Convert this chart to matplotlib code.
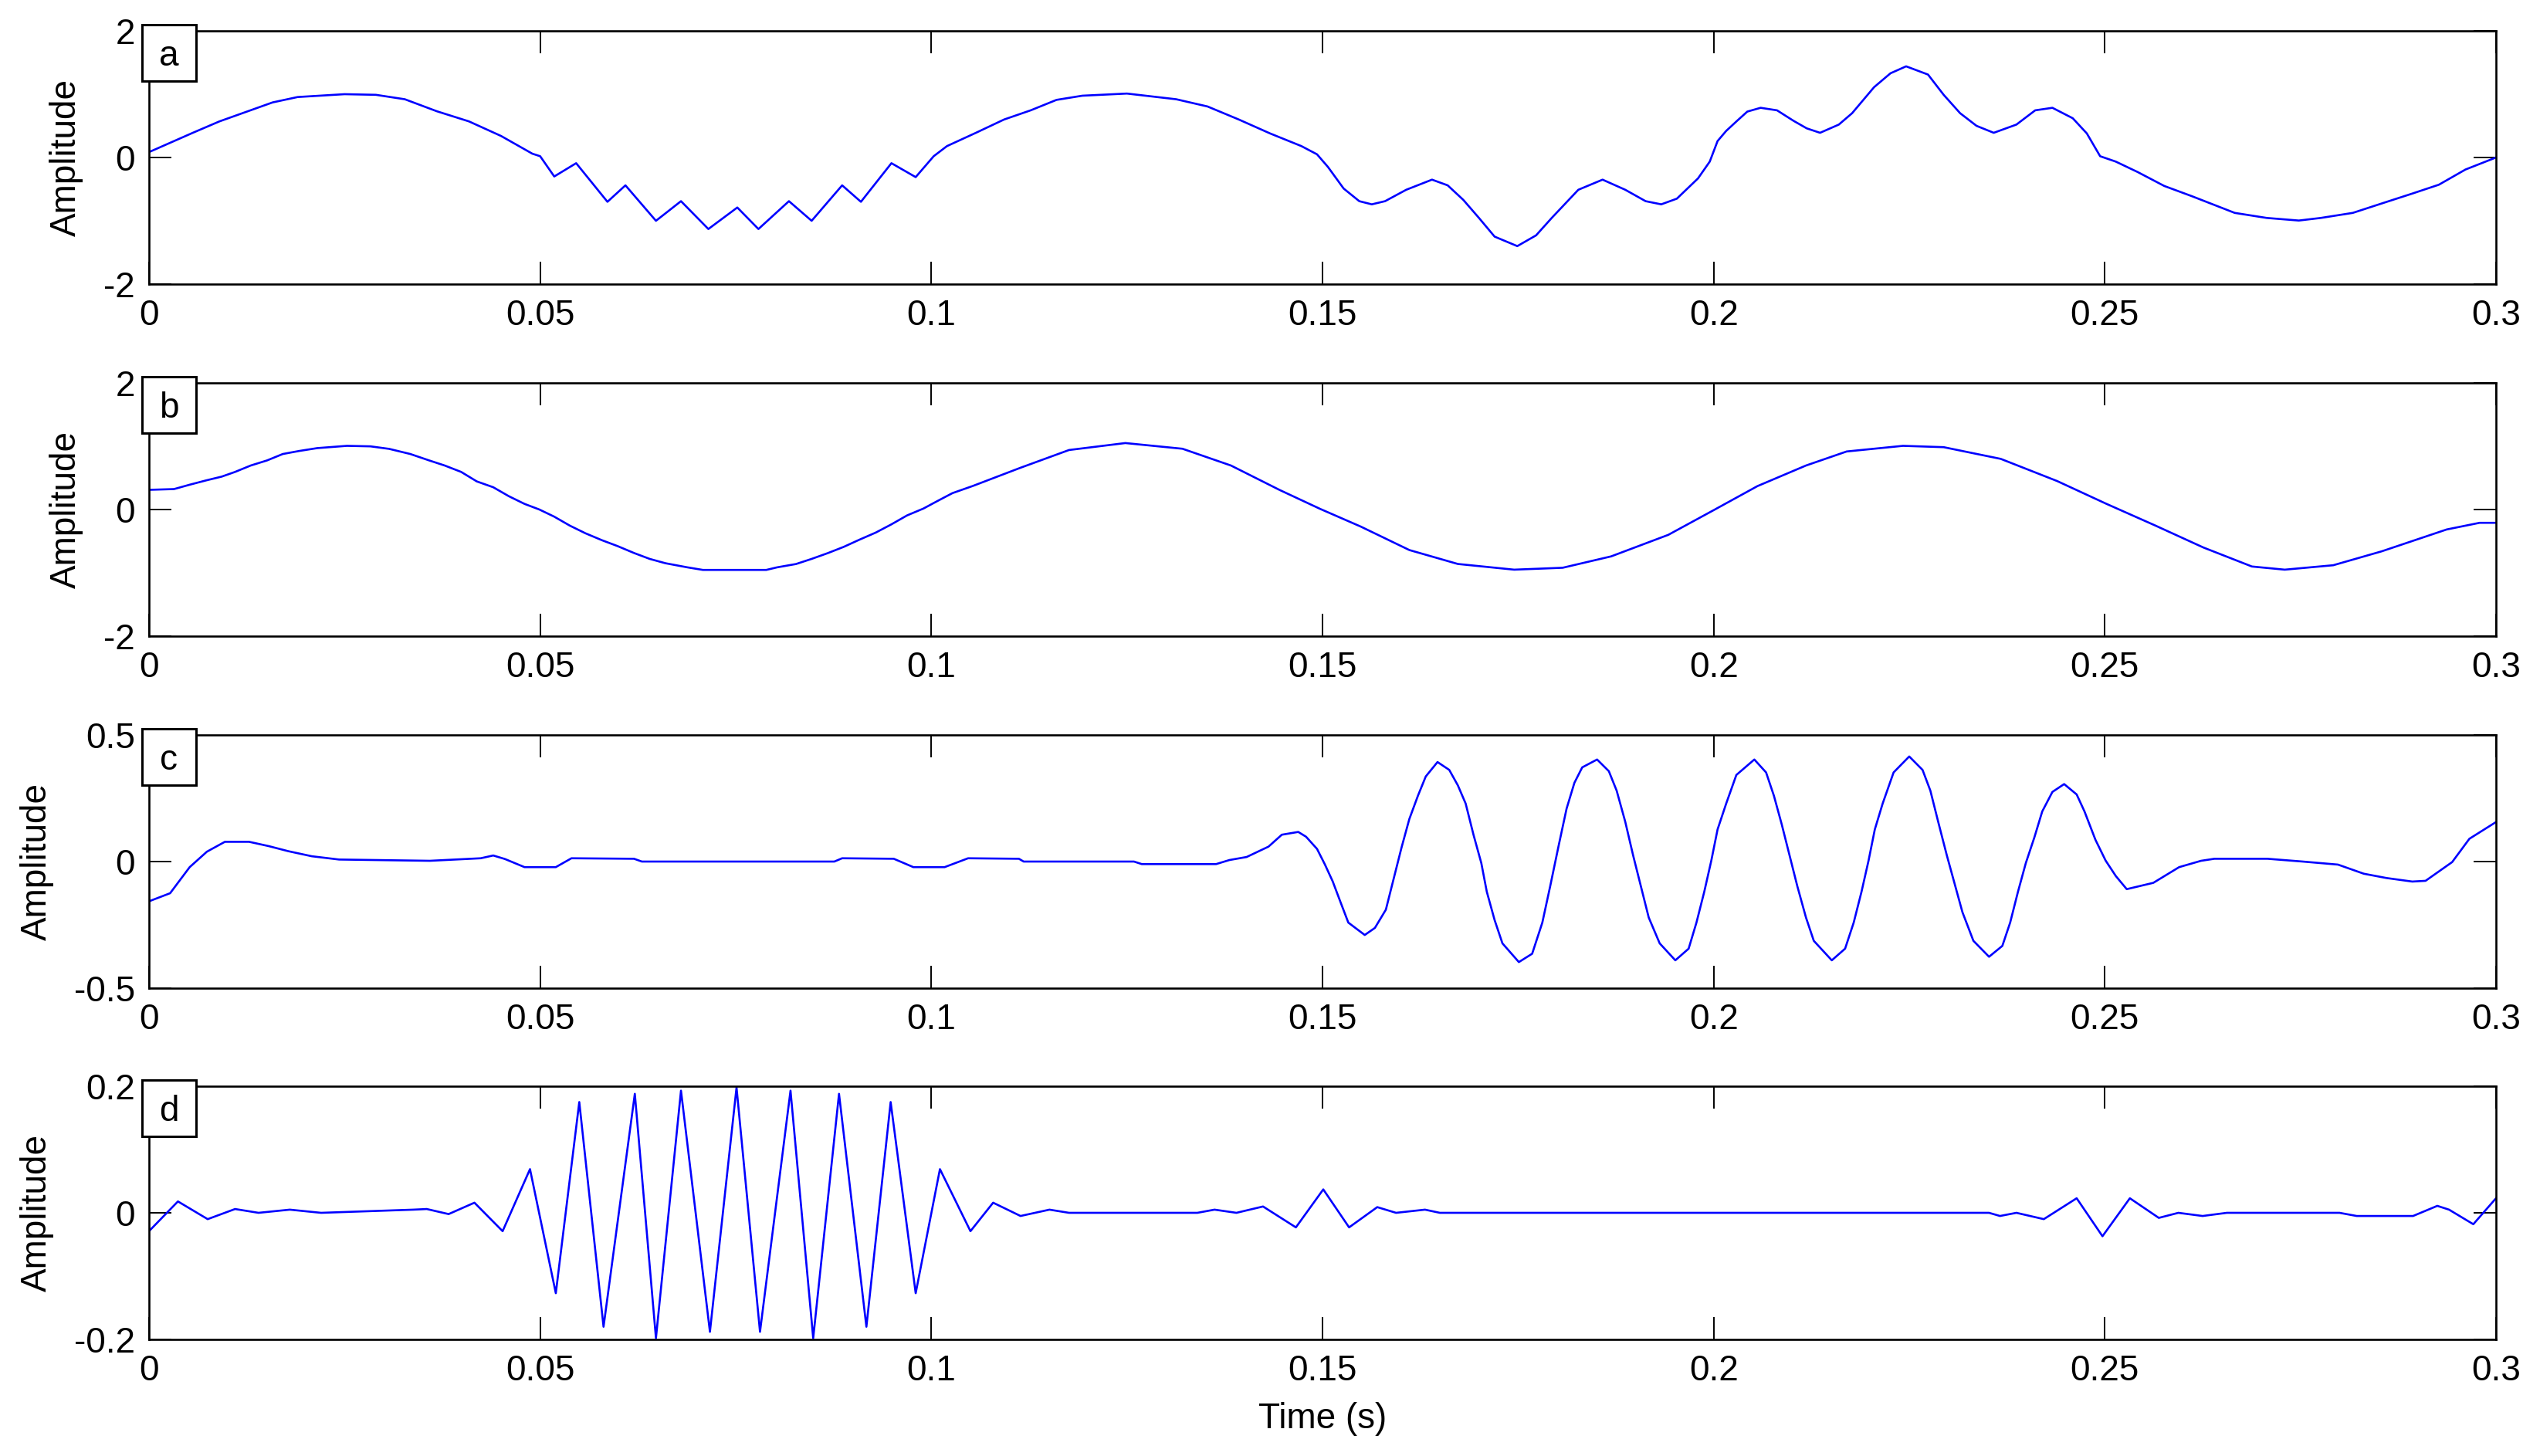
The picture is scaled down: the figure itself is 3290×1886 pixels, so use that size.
import matplotlib
matplotlib.use('Agg')
import matplotlib.pyplot as plt
from matplotlib.patches import Rectangle

plt.rcParams['font.family'] = ['Liberation Sans', 'DejaVu Sans']
plt.rcParams['axes.unicode_minus'] = False

# ---------------- data ----------------
x_ticks = [0, 0.05, 0.1, 0.15, 0.2, 0.25, 0.3]
x_tick_labels = ['0', '0.05', '0.1', '0.15', '0.2', '0.25', '0.3']
panel_letters = ['a', 'b', 'c', 'd']
y_limits = [(-2, 2), (-2, 2), (-0.5, 0.5), (-0.2, 0.2)]
y_ticks = [[-2, 0, 2], [-2, 0, 2], [-0.5, 0, 0.5], [-0.2, 0, 0.2]]
y_tick_labels = [['-2', '0', '2'], ['-2', '0', '2'], ['-0.5', '0', '0.5'], ['-0.2', '0', '0.2']]

t_a = [0.0000, 0.0056, 0.0090, 0.0124, 0.0158, 0.0190, 0.0250, 0.0290, 0.0327, 0.0368,
       0.0409, 0.0450, 0.0490, 0.0500, 0.0518, 0.0546, 0.0586, 0.0609, 0.0648, 0.0680,
       0.0715, 0.0752, 0.0779, 0.0818, 0.0847, 0.0886, 0.0910, 0.0949, 0.0980, 0.1003,
       0.1020, 0.1057, 0.1093, 0.1127, 0.1160, 0.1193, 0.1250, 0.1313, 0.1353, 0.1393,
       0.1433, 0.1473, 0.1493, 0.1507, 0.1527, 0.1547, 0.1563, 0.1580, 0.1607, 0.1640,
       0.1660, 0.1680, 0.1700, 0.1720, 0.1749, 0.1773, 0.1793, 0.1827, 0.1858, 0.1887,
       0.1913, 0.1933, 0.1953, 0.1980, 0.1995, 0.2005, 0.2016, 0.2030, 0.2043, 0.2060,
       0.2081, 0.2102, 0.2119, 0.2136, 0.2160, 0.2177, 0.2205, 0.2226, 0.2246, 0.2274,
       0.2294, 0.2315, 0.2336, 0.2358, 0.2387, 0.2411, 0.2433, 0.2459, 0.2477, 0.2494,
       0.2514, 0.2542, 0.2576, 0.2611, 0.2666, 0.2707, 0.2748, 0.2776, 0.2817, 0.2858,
       0.2893, 0.2927, 0.2961, 0.2996, 0.3000]
amp_a = [0.085, 0.39, 0.57, 0.72, 0.87, 0.955, 1.00, 0.99, 0.92, 0.73,
         0.57, 0.34, 0.06, 0.02, -0.30, -0.09, -0.70, -0.44, -1.00, -0.69,
         -1.13, -0.79, -1.13, -0.69, -1.00, -0.44, -0.70, -0.09, -0.31, 0.02,
         0.18, 0.39, 0.60, 0.745, 0.91, 0.976, 1.01, 0.92, 0.806, 0.60,
         0.38, 0.18, 0.05, -0.15, -0.49, -0.69, -0.74, -0.69, -0.51, -0.35,
         -0.44, -0.67, -0.955, -1.25, -1.40, -1.23, -0.955, -0.51, -0.35, -0.51,
         -0.69, -0.74, -0.65, -0.33, -0.065, 0.26, 0.42, 0.58, 0.725, 0.785,
         0.745, 0.58, 0.46, 0.39, 0.52, 0.70, 1.11, 1.33, 1.44, 1.31,
         0.99, 0.70, 0.50, 0.39, 0.52, 0.745, 0.785, 0.62, 0.38, 0.02,
         -0.065, -0.23, -0.45, -0.61, -0.875, -0.955, -0.996, -0.955, -0.875, -0.71,
         -0.57, -0.43, -0.19, -0.02, 0.00]

t_b = [0.0000, 0.0032, 0.0052, 0.0073, 0.0093, 0.0110, 0.0130, 0.0151, 0.0171, 0.0192,
       0.0215, 0.0253, 0.0283, 0.0307, 0.0334, 0.0358, 0.0378, 0.0399, 0.0419, 0.0440,
       0.0460, 0.0480, 0.0499, 0.0518, 0.0538, 0.0558, 0.0579, 0.0599, 0.0620, 0.0640,
       0.0660, 0.0688, 0.0708, 0.0749, 0.0789, 0.0803, 0.0827, 0.0847, 0.0868, 0.0888,
       0.0908, 0.0929, 0.0949, 0.0969, 0.0990, 0.1007, 0.1027, 0.1053, 0.1114, 0.1176,
       0.1248, 0.1321, 0.1383, 0.1445, 0.1497, 0.1549, 0.1611, 0.1673, 0.1745, 0.1807,
       0.1869, 0.1942, 0.2000, 0.2056, 0.2118, 0.2170, 0.2242, 0.2294, 0.2367, 0.2439,
       0.2502, 0.2564, 0.2626, 0.2688, 0.2730, 0.2792, 0.2854, 0.2937, 0.2979, 0.3000]
amp_b = [0.311, 0.323, 0.392, 0.46, 0.52, 0.594, 0.695, 0.776, 0.877, 0.925,
         0.970, 1.006, 0.998, 0.958, 0.877, 0.776, 0.695, 0.594, 0.444, 0.352,
         0.210, 0.089, 0.000, -0.113, -0.255, -0.376, -0.485, -0.578, -0.687, -0.780,
         -0.848, -0.913, -0.954, -0.954, -0.954, -0.913, -0.861, -0.780, -0.687, -0.590,
         -0.477, -0.364, -0.234, -0.093, 0.016, 0.129, 0.259, 0.372, 0.66, 0.94,
         1.05, 0.96, 0.695, 0.31, 0.01, -0.27, -0.64, -0.86, -0.95, -0.92,
         -0.74, -0.40, -0.01, 0.37, 0.695, 0.917, 1.006, 0.985, 0.80, 0.45,
         0.09, -0.25, -0.60, -0.90, -0.95, -0.88, -0.66, -0.315, -0.21, -0.21]

t_c = [0.0000, 0.0027, 0.0052, 0.0074, 0.0097, 0.0128, 0.0153, 0.0178, 0.0208, 0.0243,
       0.0359, 0.0424, 0.0440, 0.0455, 0.0480, 0.0520, 0.0540, 0.0620, 0.0630, 0.0876,
       0.0886, 0.0952, 0.0977, 0.1017, 0.1047, 0.1112, 0.1118, 0.1259, 0.1269, 0.1364,
       0.1381, 0.1403, 0.1431, 0.1448, 0.1469, 0.1479, 0.1493, 0.1503, 0.1513, 0.1523,
       0.1533, 0.1554, 0.1567, 0.1581, 0.1591, 0.1601, 0.1611, 0.1622, 0.1632, 0.1647,
       0.1662, 0.1673, 0.1683, 0.1693, 0.1703, 0.1710, 0.1720, 0.1730, 0.1751, 0.1768,
       0.1781, 0.1791, 0.1802, 0.1812, 0.1822, 0.1832, 0.1851, 0.1866, 0.1876, 0.1887,
       0.1897, 0.1907, 0.1917, 0.1931, 0.1951, 0.1968, 0.1978, 0.1988, 0.1997, 0.2005,
       0.2016, 0.2029, 0.2052, 0.2067, 0.2077, 0.2087, 0.2097, 0.2107, 0.2118, 0.2128,
       0.2151, 0.2168, 0.2179, 0.2189, 0.2198, 0.2206, 0.2216, 0.2230, 0.2250, 0.2267,
       0.2277, 0.2287, 0.2298, 0.2308, 0.2318, 0.2332, 0.2352, 0.2369, 0.2379, 0.2389,
       0.2399, 0.2410, 0.2420, 0.2433, 0.2448, 0.2464, 0.2474, 0.2488, 0.2501, 0.2514,
       0.2528, 0.2562, 0.2595, 0.2623, 0.2640, 0.2708, 0.2753, 0.2798, 0.2831, 0.2860,
       0.2893, 0.2910, 0.2944, 0.2966, 0.3000]
amp_c = [-0.157, -0.125, -0.022, 0.039, 0.078, 0.078, 0.061, 0.041, 0.021, 0.008,
         0.003, 0.013, 0.024, 0.010, -0.022, -0.022, 0.013, 0.011, 0.000, 0.000,
         0.013, 0.011, -0.022, -0.022, 0.013, 0.011, 0.000, 0.000, -0.010, -0.010,
         0.006, 0.018, 0.059, 0.106, 0.117, 0.098, 0.050, -0.011, -0.078, -0.160,
         -0.241, -0.290, -0.262, -0.190, -0.067, 0.055, 0.168, 0.260, 0.336, 0.393,
         0.362, 0.301, 0.229, 0.106, -0.006, -0.119, -0.231, -0.323, -0.397, -0.364,
         -0.241, -0.098, 0.065, 0.209, 0.311, 0.372, 0.403, 0.357, 0.280, 0.157,
         0.025, -0.098, -0.221, -0.323, -0.390, -0.344, -0.241, -0.119, 0.004, 0.127,
         0.229, 0.342, 0.403, 0.352, 0.260, 0.147, 0.025, -0.098, -0.221, -0.313,
         -0.390, -0.344, -0.241, -0.119, 0.004, 0.127, 0.229, 0.352, 0.415, 0.362,
         0.280, 0.157, 0.025, -0.088, -0.200, -0.313, -0.376, -0.333, -0.241, -0.119,
         -0.006, 0.096, 0.198, 0.275, 0.306, 0.265, 0.198, 0.086, 0.004, -0.057,
         -0.109, -0.084, -0.022, 0.003, 0.011, 0.011, 0.000, -0.012, -0.048, -0.065,
         -0.079, -0.076, -0.002, 0.090, 0.156]

t_d = [0.0000, 0.0037, 0.0075, 0.0110, 0.0140, 0.0180, 0.0220, 0.0338, 0.0355, 0.0383,
       0.0416, 0.0452, 0.0487, 0.0520, 0.0550, 0.0581, 0.0621, 0.0648, 0.0680, 0.0717,
       0.0751, 0.0781, 0.0820, 0.0849, 0.0882, 0.0917, 0.0948, 0.0980, 0.1011, 0.1050,
       0.1079, 0.1114, 0.1151, 0.1176, 0.1340, 0.1362, 0.1390, 0.1424, 0.1466, 0.1501,
       0.1534, 0.1570, 0.1594, 0.1631, 0.1650, 0.2352, 0.2366, 0.2387, 0.2422, 0.2464,
       0.2497, 0.2532, 0.2569, 0.2594, 0.2625, 0.2656, 0.2800, 0.2822, 0.2894, 0.2925,
       0.2940, 0.2971, 0.3000]
amp_d = [-0.029, 0.018, -0.010, 0.006, 0.000, 0.005, 0.000, 0.005, 0.006, -0.002,
         0.016, -0.029, 0.069, -0.127, 0.175, -0.180, 0.188, -0.198, 0.193, -0.188,
         0.198, -0.188, 0.193, -0.198, 0.188, -0.180, 0.175, -0.127, 0.069, -0.029,
         0.016, -0.005, 0.005, 0.000, 0.000, 0.005, 0.000, 0.010, -0.023, 0.037,
         -0.023, 0.009, 0.000, 0.005, 0.000, 0.000, -0.005, 0.000, -0.010, 0.023,
         -0.037, 0.023, -0.008, 0.000, -0.005, 0.000, 0.000, -0.005, -0.005, 0.011,
         0.005, -0.018, 0.023]

series = [(t_a, amp_a), (t_b, amp_b), (t_c, amp_c), (t_d, amp_d)]

# ---------------- layout ----------------
W, H = 3291, 1886
fig = plt.figure(figsize=(W / 100, H / 100), dpi=100)
left_px, right_px = 193, 3233
tops_px = [40, 496, 952, 1407]
height_px = 328
FS = 33

for i, (t, v) in enumerate(series):
    top = tops_px[i]
    ax = fig.add_axes([left_px / W, 1 - (top + height_px) / H,
                       (right_px - left_px) / W, height_px / H])
    ax.plot(t, v, color=(0, 0, 1), lw=1.9)
    ax.set_xlim(0, 0.3)
    ax.set_ylim(*y_limits[i])
    ax.set_xticks(x_ticks)
    ax.set_xticklabels(x_tick_labels)
    ax.set_yticks(y_ticks[i])
    ax.set_yticklabels(y_tick_labels[i])
    ax.tick_params(direction='in', length=21, width=1.4, top=True, right=True,
                   labelsize=FS)
    ax.tick_params(axis='x', pad=14)
    ax.tick_params(axis='y', pad=13)
    for s in ax.spines.values():
        s.set_linewidth(1.9)
    ax.set_ylabel('Amplitude', fontsize=FS, labelpad=19)
    if i == 3:
        ax.set_xlabel('Time (s)', fontsize=FS, labelpad=12.5)

    # panel letter box
    bx = left_px - 9
    fig.add_artist(Rectangle((bx / W, 1 - (top + 65) / H), 70 / W, 73 / H,
                             transform=fig.transFigure, facecolor='white',
                             edgecolor='black', lw=2.2, zorder=5))
    fig.text((bx + 35) / W, 1 - (top + 45) / H, panel_letters[i], ha='center',
             va='baseline', fontsize=FS, zorder=6)

fig.savefig('out.png', dpi=100)
